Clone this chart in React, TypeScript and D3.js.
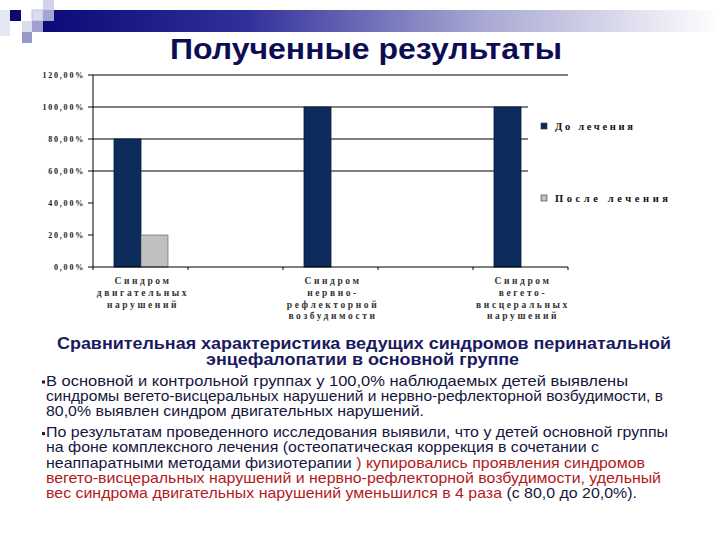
import React from "react";
import * as d3 from "d3";

const categories = ["Синдром двигательных нарушений", "Синдром нервно-рефлекторной возбудимости", "Синдром вегето-висцеральных нарушений"];
const categoryLabelLines = [
  ["Синдром", "двигательных", "нарушений"],
  ["Синдром", "нервно-", "рефлекторной", "возбудимости"],
  ["Синдром", "вегето-", "висцеральных", "нарушений"],
];
const seriesNames = ["До лечения", "После лечения"];
const beforeValues = [0.8, 1.0, 1.0];
const afterValues = [0.2, 0, 0];
const yTicks = [0, 0.2, 0.4, 0.6, 0.8, 1.0, 1.2];
const gridValues = [0.6, 0.8, 1.0, 1.2];

const title = "Полученные результаты";
const subtitleLines = ["Сравнительная характеристика ведущих синдромов перинатальной", "энцефалопатии в основной группе"];
const bodyLines: { bullet: boolean; parts: [string, boolean][] }[] = [
  { bullet: true, parts: [["В основной и контрольной группах у 100,0% наблюдаемых детей выявлены", false]] },
  { bullet: false, parts: [["синдромы вегето-висцеральных нарушений и нервно-рефлекторной возбудимости, в", false]] },
  { bullet: false, parts: [["80,0% выявлен синдром двигательных нарушений.", false]] },
  { bullet: true, parts: [["По результатам проведенного исследования выявили, что у детей основной группы", false]] },
  { bullet: false, parts: [["на фоне комплексного лечения (остеопатическая коррекция в сочетании с", false]] },
  { bullet: false, parts: [["неаппаратными методами физиотерапии ", false], [") купировались проявления синдромов", true]] },
  { bullet: false, parts: [["вегето-висцеральных нарушений и нервно-рефлекторной возбудимости, удельный", true]] },
  { bullet: false, parts: [["вес синдрома двигательных нарушений уменьшился в 4 раза", true], [" (с 80,0 до 20,0%).", false]] },
];
const bodyLineWidths = [582, 617, 378, 622, 553, 599, 615, 591];

const W = 720, H = 540;
const y = d3.scaleLinear().domain([0, 1.2]).range([267, 75]);
const xAxis = d3.scaleLinear().domain([0, 5]).range([93, 568]);
const xCat = d3.scalePoint<string>().domain(categories).range([141, 521]);
const barW = 27;
const fmt = (v: number) => (v * 100).toFixed(2).replace(".", ",") + "%";

const NAVY = "#0c2c5c";
const GRAY = "#c0c0c0";
const TEXT = "#16163e";
const RED = "#b3191b";
const chartFont = "'Liberation Serif', serif";
const sans = "'Liberation Sans', Arial, sans-serif";

export default function App() {
  const bodyY0 = 385.5;
  const bodyStep = 15.2;
  const bodyYs = bodyLines.map((_, i) => bodyY0 + i * bodyStep + (i >= 3 ? 6 : 0));
  return (
    <svg width={W} height={H} style={{ position: "absolute", left: 0, top: 0, background: "#fff" }}>
      <defs>
        <linearGradient id="band" x1="0" x2="1" y1="0" y2="0">
          <stop offset="0" stopColor="#0a0a78" />
          <stop offset="0.3" stopColor="#30309a" />
          <stop offset="0.65" stopColor="#a8a8d2" />
          <stop offset="1" stopColor="#ffffff" />
        </linearGradient>
      </defs>
      <rect x={0} y={0} width={W} height={H} fill="#fff" />
      <rect x={0} y={10} width={10} height={26} fill="#e6e6f2" />
      <rect x={43} y={10} width={677} height={22} fill="url(#band)" />
      <rect x={10} y={10} width={11} height={11} fill="#0a0a6e" />
      <rect x={43} y={0} width={11} height={10} fill="#d2d2ea" />
      <rect x={43} y={10} width={11} height={11} fill="#a4a4d0" />
      <rect x={32} y={10} width={11} height={11} fill="#dcdcf0" stroke="#b4b4d8" strokeWidth={0.8} />
      <rect x={22} y={21} width={10} height={11} fill="#dcdcf0" />
      <rect x={32} y={21} width={11} height={11} fill="#a0a0cc" />
      <rect x={22} y={32} width={10} height={11} fill="#9898c8" />

      <text x={170} y={59} textLength={392} lengthAdjust="spacingAndGlyphs" fontFamily={sans} fontWeight="bold" fontSize={30} fill="#0d0d55">{title}</text>

      {gridValues.map((v) => (
        <line key={v} x1={93} x2={v === 1.2 ? xAxis(5) : 528} y1={y(v)} y2={y(v)} stroke="#000" strokeWidth={1} />
      ))}
      <line x1={93} x2={93} y1={y(1.2)} y2={y(0)} stroke="#000" />
      {yTicks.map((v) => (
        <g key={v}>
          <line x1={88} x2={93} y1={y(v)} y2={y(v)} stroke="#000" />
          <text x={85} y={y(v) + 3} textAnchor="end" fontFamily={chartFont} fontWeight="bold" fontSize={8} letterSpacing={1.8} fill="#222">{fmt(v)}</text>
        </g>
      ))}
      {categories.map((c, i) => (
        <g key={c}>
          <rect x={xCat(c)! - barW} y={y(beforeValues[i])} width={barW} height={y(0) - y(beforeValues[i])} fill={NAVY} stroke="#06183a" strokeWidth={0.8} />
          {afterValues[i] > 0 && (
            <rect x={xCat(c)!} y={y(afterValues[i])} width={barW} height={y(0) - y(afterValues[i])} fill={GRAY} stroke="#555" strokeWidth={0.6} />
          )}
        </g>
      ))}
      <line x1={93} x2={xAxis(5)} y1={y(0)} y2={y(0)} stroke="#000" />
      {d3.range(0, 6).map((t) => (
        <line key={t} x1={xAxis(t)} x2={xAxis(t)} y1={y(0)} y2={y(0) + 3} stroke="#000" />
      ))}
      {categories.map((c, i) => (
        <text key={c} textAnchor="middle" fontFamily={chartFont} fontWeight="bold" fontSize={9.5} letterSpacing={2.6} fill="#333">
          {categoryLabelLines[i].map((ln, j) => (
            <tspan key={j} x={xCat(c)! + 2} y={284 + j * 11.8}>{ln}</tspan>
          ))}
        </text>
      ))}
      {seriesNames.map((s, i) => (
        <g key={s}>
          <rect x={541} y={123 + i * 72} width={6} height={6} fill={i === 0 ? NAVY : GRAY} stroke="#333" strokeWidth={0.6} />
          <text x={555} y={130 + i * 72} textLength={i === 0 ? 78 : 113} lengthAdjust="spacing" fontFamily={chartFont} fontWeight="bold" fontSize={10.5} fill="#111">{s}</text>
        </g>
      ))}

      {subtitleLines.map((s, i) => (
        <text key={i} x={i === 0 ? 57 : 206} y={349 + i * 16} textLength={i === 0 ? 614 : 313} lengthAdjust="spacingAndGlyphs" fontFamily={sans} fontWeight="bold" fontSize={15.6} fill="#1a1a60">{s}</text>
      ))}
      {bodyLines.map((ln, i) => (
        <g key={i}>
          {ln.bullet && <rect x={42} y={bodyYs[i] - 5} width={3} height={3} fill={TEXT} />}
          <text x={46} y={bodyYs[i]} textLength={bodyLineWidths[i]} lengthAdjust="spacingAndGlyphs" fontFamily={sans} fontSize={14.6} fill={TEXT}>
            {ln.parts.map(([t, red], k) => (
              <tspan key={k} fill={red ? RED : TEXT}>{t}</tspan>
            ))}
          </text>
        </g>
      ))}
    </svg>
  );
}
